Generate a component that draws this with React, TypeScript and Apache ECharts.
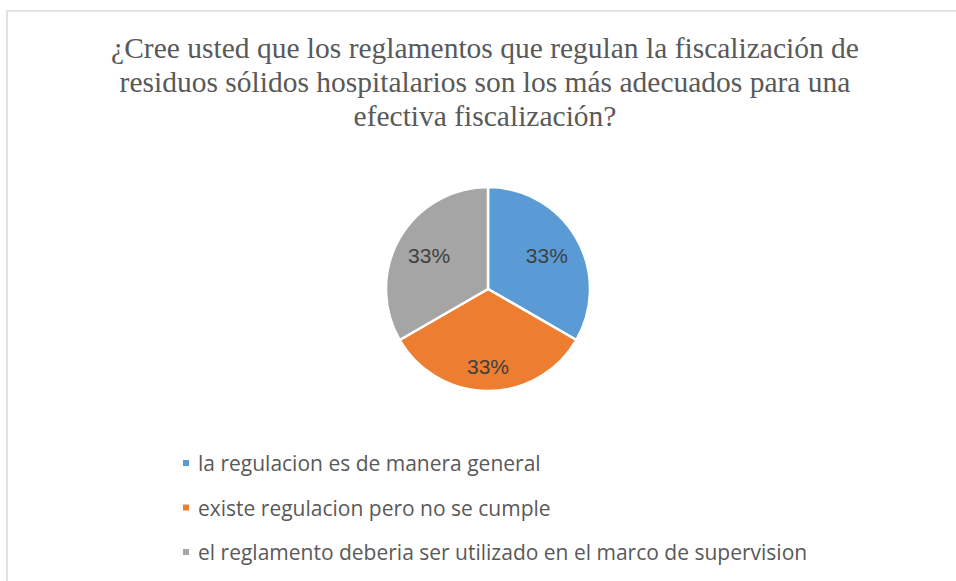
import React, { useEffect, useRef } from "react";
import * as echarts from "echarts";

const titleLines = [
  "¿Cree usted que los reglamentos que regulan la fiscalización de",
  "residuos sólidos hospitalarios son los más adecuados para una",
  "efectiva fiscalización?",
];
const categories = [
  "la regulacion es de manera general",
  "existe regulacion pero no se cumple",
  "el reglamento deberia ser utilizado en el marco de supervision",
];
const values = [1, 1, 1];
const colors = ["#5B9BD5", "#ED7D31", "#A5A5A5"];

export default function App() {
  const ref = useRef<HTMLDivElement>(null);
  useEffect(() => {
    const chart = echarts.init(ref.current!, null, { renderer: "svg" });
    const data = categories.map((name, i) => ({
      name,
      value: values[i],
      itemStyle: { color: colors[i] },
    }));
    chart.setOption({
      animation: false,
      backgroundColor: "#ffffff",
      title: {
        text: titleLines.join("\n"),
        left: 480,
        textAlign: "center",
        top: 26,
        textStyle: {
          fontFamily: "Liberation Serif",
          fontSize: 29.5,
          fontWeight: "normal",
          color: "#595959",
          lineHeight: 34,
        },
      },
      legend: {
        orient: "vertical",
        left: 176,
        top: 447.5,
        itemWidth: 8,
        itemHeight: 8,
        itemGap: 23.5,
        icon: "rect",
        data: categories,
        textStyle: {
          fontFamily: "Open Sans",
          fontSize: 21,
          lineHeight: 21,
          color: "#595959",
          padding: [0, 0, 0, 3],
        },
      },
      graphic: [
        {
          type: "rect",
          shape: { x: 7, y: 11, width: 1200, height: 1000 },
          style: { fill: "none", stroke: "#d9d9d9", lineWidth: 1.5 },
          silent: true,
        },
      ],
      series: [
        {
          type: "pie",
          center: [488, 289],
          radius: [0, 102],
          startAngle: 90,
          clockwise: true,
          label: { show: false },
          labelLine: { show: false },
          itemStyle: { borderColor: "#ffffff", borderWidth: 2.5 },
          emphasis: { disabled: true },
          data,
        },
        {
          type: "pie",
          center: [488, 289],
          radius: [0, 130],
          startAngle: 90,
          clockwise: true,
          silent: true,
          itemStyle: { color: "rgba(0,0,0,0)", borderWidth: 0 },
          label: {
            show: true,
            position: "inside",
            formatter: (p: any) => Math.round(p.percent) + "%",
            fontFamily: "Liberation Sans",
            fontSize: 21,
            color: "#404040",
          },
          labelLayout: (p: any) => (p.dataIndex === 1 ? { dy: 9 } : {}),
          labelLine: { show: false },
          emphasis: { disabled: true },
          legendHoverLink: false,
          data: categories.map((name, i) => ({ name, value: values[i] })),
        },
      ],
    });
    return () => chart.dispose();
  }, []);
  return (
    <div
      ref={ref}
      style={{ position: "absolute", left: 0, top: 0, width: 956, height: 581 }}
    />
  );
}
